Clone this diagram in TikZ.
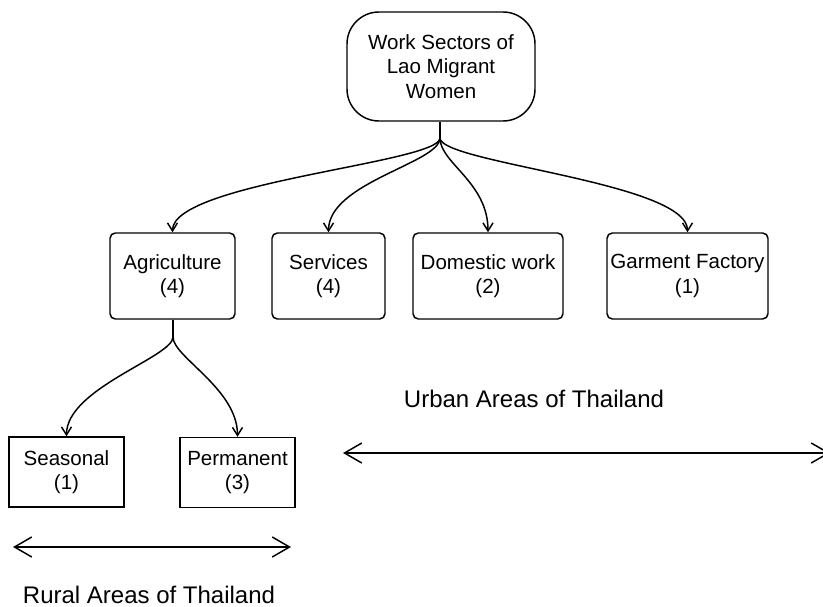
\documentclass[tikz,border=0pt]{standalone}
\usepackage{fontspec}
\setmainfont{Liberation Sans}
\usetikzlibrary{arrows.meta}

\tikzset{every picture/.style={line width=1.1pt}}
\tikzset{
  boxfont/.style={font=\fontsize{15.4}{18.4}\selectfont},
  sector/.style={draw, rounded corners=4pt, align=center, inner sep=0.75pt, minimum height=64.5pt, boxfont},
  subsector/.style={draw, align=center, inner sep=0.75pt, minimum height=52.5pt, minimum width=86.25pt, boxfont},
  arealabel/.style={inner sep=0pt, anchor=base, font=\fontsize{18}{21.6}\selectfont},
  conn/.style={-{Straight Barb[length=6pt,width=7.5pt]}},
  span/.style={{Straight Barb[length=13pt,width=15pt]}-{Straight Barb[length=13pt,width=15pt]}},
}

\begin{document}
\begin{tikzpicture}[x=0.75pt,y=0.75pt,yscale=-1,xscale=1]
    \useasboundingbox (0,0) rectangle (823,606);

    % Root Node
    \node [draw, rounded corners=24pt, align=center, boxfont, minimum width=141pt, minimum height=81.75pt] (root) at (441,66.5) {Work Sectors of\\Lao Migrant\\Women};

    % Sector Nodes
    \node [sector, minimum width=93.75pt] (agri) at (172.5,276) {Agriculture\\(4)};
    \node [sector, minimum width=84.75pt] (serv) at (328.5,276) {Services\\(4)};
    \node [sector, minimum width=112.5pt] (dom) at (488,276) {Domestic work\\(2)};
    \node [sector, minimum width=120.75pt] (garm) at (687.5,276) {Garment Factory\\(1)};

    % Agriculture Nodes
    \node [subsector] (seas) at (66.5,472) {Seasonal\\(1)};
    \node [subsector] (perm) at (237.5,472.5) {Permanent\\(3)};

    % Branch points
    \coordinate (hubroot) at (440,138);
    \coordinate (hubagri) at (173,337);

    %Curve Lines
    \draw (root.south -| hubroot) -- (hubroot);
    \foreach \t in {agri,serv,dom,garm}
      \draw [conn] (hubroot) .. controls +(0,25) and +(0,-50) .. (\t.north);
    \draw (agri.south -| hubagri) -- (hubagri);
    \foreach \t in {seas,perm}
      \draw [conn] (hubagri) .. controls +(0,20) and +(0,-48) .. (\t.north);

    % Area Arrows
    \coordinate (ruralW) at (13,547);
    \coordinate (ruralE) at (291,547);
    \coordinate (urbanW) at (343,453);
    \coordinate (urbanE) at (830,453);
    \draw [span] (ruralW) -- (ruralE);
    \draw [span] (urbanW) -- (urbanE);

    % Text Node
    \node [arealabel] (rural) at (149,603) {Rural Areas of Thailand};
    % Text Node
    \node [arealabel] (urban) at (534,407) {Urban Areas of Thailand};

\end{tikzpicture}
\end{document}
